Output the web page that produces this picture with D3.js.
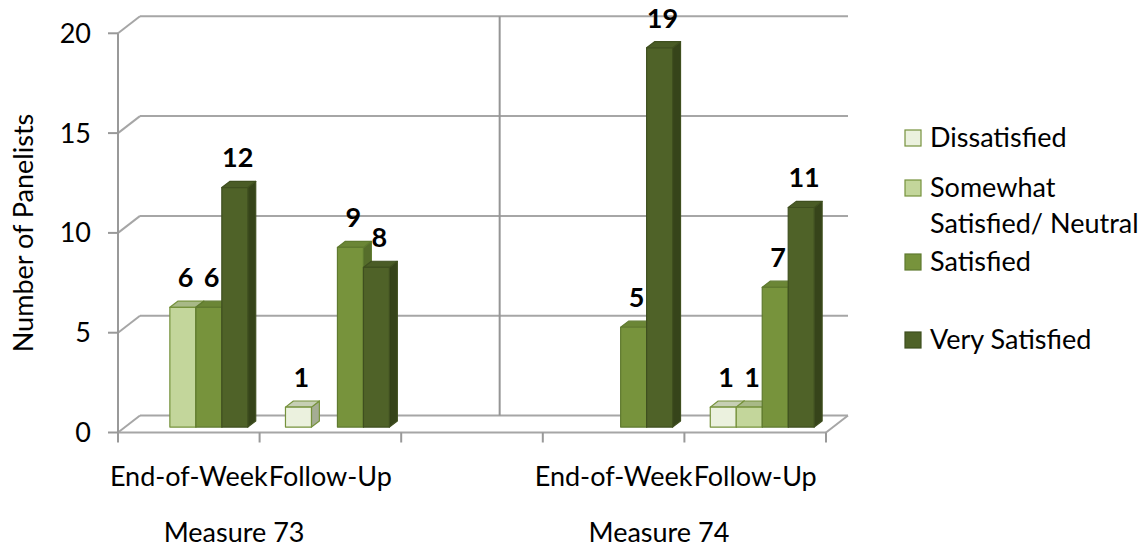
<!DOCTYPE html>
<html>
<head>
<meta charset="utf-8">
<script src="https://cdnjs.cloudflare.com/ajax/libs/d3/7.8.5/d3.min.js"></script>
<style>
  body { margin: 0; background: #fff; }
  svg text { font-family: Lato, "Open Sans", sans-serif; fill: #000; }
</style>
</head>
<body>
<svg id="chart" width="1145" height="548"></svg>
<script>
// ---------- data ----------
var categories = ["m73_eow", "m73_fu", "gap", "m74_eow", "m74_fu"];
var categoryLabels = ["End-of-Week", "Follow-Up", "", "End-of-Week", "Follow-Up"];
var groupLabels = ["Measure 73", "Measure 74"];
var groupStart = [0, 3];   // index of first category in each group

var seriesNames = ["Dissatisfied", "Somewhat Satisfied/ Neutral", "Satisfied", "Very Satisfied"];
var dissatisfied  = [0, 1, null, 0, 1];
var somewhat      = [6, 0, null, 0, 1];
var satisfied     = [6, 9, null, 5, 7];
var verySatisfied = [12, 8, null, 19, 11];
var yTicks = [0, 5, 10, 15, 20];

var seriesValues = [dissatisfied, somewhat, satisfied, verySatisfied];

// face colours for each series (front, top, side, outline)
var colors = [
  { front: "#ebf1de", top: "#c6cfb4", side: "#a5ad93", stroke: "#76923c" },
  { front: "#c3d69b", top: "#a8b987", side: "#8d9d69", stroke: "#76923c" },
  { front: "#77933c", top: "#6b8636", side: "#566d2b", stroke: "#5f7a2f" },
  { front: "#4f6228", top: "#4a5c26", side: "#36441a", stroke: "#3f4f1f" }
];

// ---------- scales ----------
var svg = d3.select("#chart");

var x = d3.scaleBand().domain(categories).range([118, 826]).padding(0);
var bw = x.bandwidth();
var xs = d3.scaleBand().domain(d3.range(seriesNames.length))
  .range([bw * 0.133, bw * 0.867]).padding(0);
var y = d3.scaleLinear().domain([0, 20]).range([432.5, 33.3]);

// depth of the 3d box
var DX = 22, DY = -17;
function proj(px, py, d) { return [px + d * DX, py + d * DY]; }

var gridColor = "#a6a6a6";

// ---------- walls ----------
var walls = svg.append("g");

// back wall grid lines
walls.selectAll(".grid")
  .data(yTicks)
  .enter().append("line")
    .attr("x1", function(t) { return proj(x.range()[0], y(t), 1)[0]; })
    .attr("x2", function(t) { return proj(x.range()[1], y(t), 1)[0]; })
    .attr("y1", function(t) { return proj(0, y(t), 1)[1]; })
    .attr("y2", function(t) { return proj(0, y(t), 1)[1]; })
    .attr("stroke", gridColor).attr("stroke-width", 2);

// side wall diagonals
walls.selectAll(".diag")
  .data(yTicks)
  .enter().append("line")
    .attr("x1", x.range()[0])
    .attr("y1", function(t) { return y(t); })
    .attr("x2", proj(x.range()[0], 0, 1)[0])
    .attr("y2", function(t) { return proj(0, y(t), 1)[1]; })
    .attr("stroke", gridColor).attr("stroke-width", 2);

// divider between the two measures on the back wall
var divX = x("gap") + bw * 0.54;
walls.append("line")
  .attr("x1", proj(divX, 0, 1)[0]).attr("x2", proj(divX, 0, 1)[0])
  .attr("y1", proj(0, y(20), 1)[1]).attr("y2", proj(0, y(0), 1)[1])
  .attr("stroke", "#959595").attr("stroke-width", 2);

// floor front edge and right edge
walls.append("line")
  .attr("x1", x.range()[0]).attr("x2", x.range()[1])
  .attr("y1", y(0)).attr("y2", y(0))
  .attr("stroke", gridColor).attr("stroke-width", 2);
walls.append("line")
  .attr("x1", x.range()[1]).attr("y1", y(0))
  .attr("x2", proj(x.range()[1], y(0), 1)[0]).attr("y2", proj(x.range()[1], y(0), 1)[1])
  .attr("stroke", gridColor).attr("stroke-width", 2);

// front vertical axis
walls.append("line")
  .attr("x1", x.range()[0]).attr("x2", x.range()[0])
  .attr("y1", y(20)).attr("y2", y(0))
  .attr("stroke", "#999").attr("stroke-width", 2);

walls.selectAll(".ytick")
  .data(yTicks)
  .enter().append("line")
    .attr("x1", x.range()[0] - 10).attr("x2", x.range()[0])
    .attr("y1", function(t) { return y(t); })
    .attr("y2", function(t) { return y(t); })
    .attr("stroke", "#999").attr("stroke-width", 2);

// category ticks along the floor
var xTickPos = categories.map(function(c) { return x(c); }).concat([x.range()[1]]);
walls.selectAll(".xtick")
  .data(xTickPos)
  .enter().append("line")
    .attr("x1", function(d) { return d; }).attr("x2", function(d) { return d; })
    .attr("y1", y(0)).attr("y2", y(0) + 10)
    .attr("stroke", "#999").attr("stroke-width", 2);

// ---------- bars ----------
var F0 = 0.32, F1 = 0.68;
var bars = [];
categories.forEach(function(c, ci) {
  seriesValues.forEach(function(vals, si) {
    var v = vals[ci];
    if (v) bars.push({ cat: c, s: si, v: v });
  });
});

function pts(arr) { return arr.map(function(p) { return p.join(","); }).join(" "); }

var barG = svg.append("g");
bars.forEach(function(b) {
  var xl = x(b.cat) + xs(b.s), xr = xl + xs.bandwidth();
  var yt = y(b.v), yb = y(0);
  var c = colors[b.s];
  var g = barG.append("g")
    .attr("stroke", c.stroke).attr("stroke-width", 1.2).attr("stroke-linejoin", "round");
  g.append("polygon").attr("fill", c.side)
    .attr("points", pts([proj(xr, yt, F0), proj(xr, yt, F1), proj(xr, yb, F1), proj(xr, yb, F0)]));
  g.append("polygon").attr("fill", c.top)
    .attr("points", pts([proj(xl, yt, F0), proj(xr, yt, F0), proj(xr, yt, F1), proj(xl, yt, F1)]));
  g.append("polygon").attr("fill", c.front)
    .attr("points", pts([proj(xl, yt, F0), proj(xr, yt, F0), proj(xr, yb, F0), proj(xl, yb, F0)]));
});

// value labels
svg.append("g").selectAll("text")
  .data(bars)
  .enter().append("text")
    .attr("x", function(b) { return proj(x(b.cat) + xs(b.s) + xs.bandwidth() / 2, 0, 0.45)[0]; })
    .attr("y", function(b) { return proj(0, y(b.v), 0.45)[1] - 18; })
    .attr("text-anchor", "middle")
    .style("font-size", "27px").style("font-weight", "bold")
    .text(function(b) { return b.v; });

// ---------- axis text ----------
svg.append("g").selectAll("text")
  .data(yTicks)
  .enter().append("text")
    .attr("x", 91)
    .attr("y", function(t) { return y(t); })
    .attr("dy", "0.35em")
    .attr("text-anchor", "end")
    .style("font-size", "27px")
    .text(function(t) { return t; });

svg.append("text")
  .attr("transform", "translate(33,233) rotate(-90)")
  .attr("text-anchor", "middle")
  .style("font-size", "27px")
  .text("Number of Panelists");

svg.append("g").selectAll("text")
  .data(categories)
  .enter().append("text")
    .attr("x", function(c) { return x(c) + bw / 2; })
    .attr("y", 486)
    .attr("text-anchor", "middle")
    .style("font-size", "27px")
    .text(function(c, i) { return categoryLabels[i]; });

svg.append("g").selectAll("text")
  .data(groupLabels)
  .enter().append("text")
    .attr("x", function(g, i) { return x(categories[groupStart[i]]) + bw * 0.82; })
    .attr("y", 542)
    .attr("text-anchor", "middle")
    .style("font-size", "27px")
    .text(function(g) { return g; });

// ---------- legend ----------
var legendY = [138, 188, 262, 340];
var legend = svg.append("g").selectAll("g")
  .data(seriesNames)
  .enter().append("g")
    .attr("transform", function(d, i) { return "translate(905," + legendY[i] + ")"; });

legend.append("rect")
  .attr("x", 0).attr("y", -8).attr("width", 16).attr("height", 16)
  .attr("fill", function(d, i) { return colors[i].front; })
  .attr("stroke", function(d, i) { return colors[i].stroke; })
  .attr("stroke-width", 1.2);

legend.append("text")
  .attr("x", 25)
  .attr("dy", "0.35em")
  .style("font-size", "27px")
  .each(function(d) {
    var parts = d == "Somewhat Satisfied/ Neutral" ? ["Somewhat", "Satisfied/ Neutral"] : [d];
    var t = d3.select(this);
    parts.forEach(function(p, k) {
      t.append("tspan").attr("x", 25).attr("dy", k == 0 ? "0.35em" : "1.3em").text(p);
    });
  });
</script>
</body>
</html>
